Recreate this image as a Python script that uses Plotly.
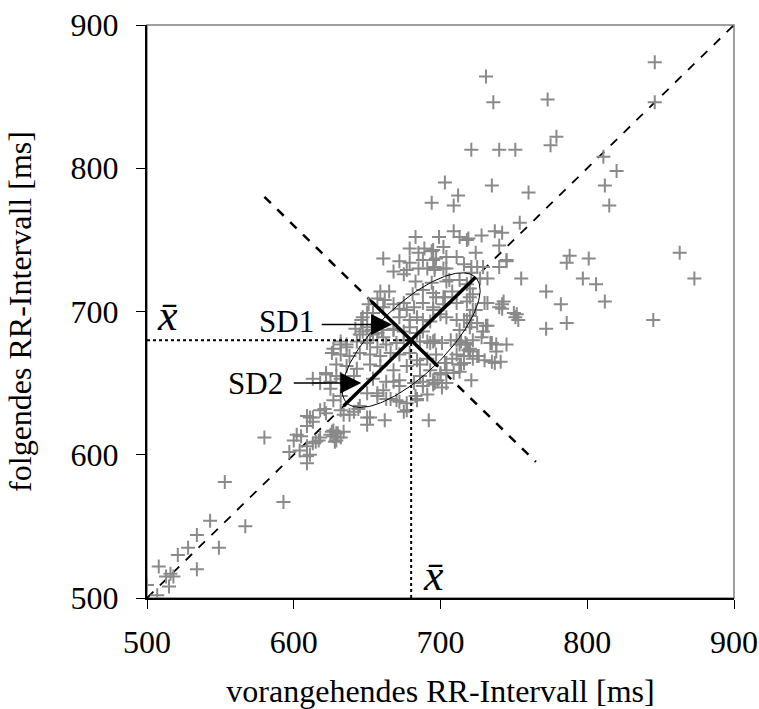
import numpy as np
import plotly.graph_objects as go

# RR(n) vs RR(n+1) in ms
rr_prev = [
    846, 731, 736, 773, 846, 779, 775, 721, 740, 751, 811, 820, 812, 815, 703, 735, 760, 712, 709, 694,
    754, 863, 873, 788, 786, 801, 797, 806, 772, 812, 782, 755, 845, 772, 786,
    699, 709, 719, 728, 737, 742, 740, 724, 711, 702, 695, 695, 721, 721, 704, 696, 740, 745, 732, 727,
    706, 722, 743, 740, 732, 752, 750, 722, 697, 703, 695, 700, 718, 745, 729, 720, 720, 730, 742, 724,
    751, 753, 716, 721,
    683, 713, 679, 689, 694, 685, 672, 679, 688, 697, 704, 661, 668, 675, 677, 685, 691, 696, 702, 716,
    725, 683, 694, 704, 713, 718, 659, 665, 657, 662, 681, 688, 695, 702, 708, 651, 650, 646, 650, 653,
    661, 668, 672, 677, 672, 679, 684, 688, 693, 695, 702, 711, 718, 704, 711, 718, 720, 725, 713, 668,
    675, 679, 684, 688, 657, 661, 652, 645, 691, 696, 701, 707, 713, 722, 632, 636, 627,
    731, 729, 728, 735, 738, 745, 738, 741, 735, 730, 726, 720, 714, 711, 717, 708, 713, 716, 703, 704,
    721, 695, 692, 700, 698, 696, 701, 720, 742, 732, 734, 720, 725, 714, 737, 718,
    647, 654, 675, 682, 688, 642, 647, 654, 660, 668,
    632, 636, 643, 650, 657, 663, 670, 675, 686, 693,
    626, 632, 638, 645, 652, 659, 666, 672, 679, 684, 691, 697,
    629, 636, 643, 652, 659, 668, 677, 686, 693,
    622, 632, 641, 654, 663, 672, 682, 688, 695,
    625, 632, 627, 650, 657, 663, 670, 677, 684, 691,
    609, 613, 618, 622, 632, 641, 645, 650, 662, 675, 683,
    626, 629, 632, 627, 602, 600, 609, 604, 609, 609, 613, 618,
    580, 553, 593, 543, 534, 567, 528, 549, 521, 508, 516, 518, 513, 534, 500, 515, 507,
    605, 611, 617, 597, 634, 628,
    684, 677, 672, 652, 650, 644, 638, 634, 627, 630, 625, 629, 611, 609, 613, 621, 615, 711, 719, 722,
    713, 704, 700, 695, 688, 686, 704, 709, 716, 668, 672, 661, 657, 666, 622, 625, 629, 618, 613,
]
rr_next = [
    874, 864, 846, 848, 846, 822, 816, 813, 813, 813, 808, 798, 788, 774, 790, 788, 783, 781, 774, 776,
    762, 741, 723, 739, 734, 737, 723, 719, 714, 707, 705, 723, 694, 688, 692,
    752, 756, 751, 753, 756, 755, 746, 741, 738, 745, 743, 736, 731, 727, 730, 731, 731, 736, 723, 723,
    722, 712, 707, 703, 706, 698, 699, 701, 710, 710, 703, 698, 750, 735, 731, 716, 710, 706, 702, 701,
    696, 694, 694, 692,
    752, 752, 744, 744, 742, 741, 735, 734, 736, 737, 738, 737, 728, 726, 729, 730, 730, 729, 730, 733,
    731, 721, 720, 721, 722, 719, 714, 714, 709, 708, 712, 715, 713, 710, 714, 705, 699, 694, 689, 687,
    703, 705, 702, 701, 696, 694, 696, 694, 693, 701, 705, 706, 707, 696, 694, 694, 689, 692, 687, 687,
    686, 689, 685, 686, 685, 682, 680, 684, 679, 680, 678, 680, 677, 680, 677, 675, 674,
    690, 686, 682, 678, 677, 677, 672, 665, 665, 666, 669, 672, 679, 680, 678, 667, 663, 669, 664, 659,
    652, 679, 624, 656, 652, 650, 647, 697, 705, 690, 678, 674, 669, 663, 664, 677,
    696, 699, 706, 703, 706, 688, 686, 684, 687, 688,
    679, 677, 679, 678, 675, 677, 678, 680, 679, 678,
    671, 670, 669, 671, 670, 669, 671, 670, 671, 666, 667, 670,
    663, 662, 660, 663, 662, 659, 662, 663, 659,
    656, 653, 655, 653, 651, 652, 650, 651, 649,
    646, 641, 638, 643, 641, 639, 638, 636, 638, 642,
    627, 626, 631, 629, 631, 630, 634, 626, 624, 630, 641,
    616, 615, 612, 613, 614, 610, 606, 603, 599, 594, 608, 612,
    612, 581, 567, 554, 544, 550, 535, 535, 530, 522, 517, 515, 515, 520, 509, 508, 502,
    613, 600, 610, 602, 616, 609,
    639, 631, 637, 626, 621, 632, 628, 628, 617, 615, 614, 610, 626, 620, 623, 632, 609, 670, 673, 667,
    658, 664, 657, 652, 648, 655, 650, 657, 664, 651, 648, 645, 643, 639, 657, 651, 655, 650, 653,
]

MEAN_RR = 680
SD1_HALF = 24    # semi-minor of the fitted ellipse
SD2_HALF = 62    # semi-major of the fitted ellipse

axis_ticks = [500, 600, 700, 800, 900]

FONT = "Liberation Serif, Times New Roman, serif"

fig = go.Figure()

# line of identity
fig.add_trace(go.Scatter(x=[500, 900], y=[500, 900], mode="lines",
                         line=dict(color="black", width=1.8, dash="dash"), hoverinfo="skip"))
# perpendicular through the mean
fig.add_trace(go.Scatter(x=[580, 765], y=[780, 595], mode="lines",
                         line=dict(color="black", width=2.5, dash="dash"), hoverinfo="skip"))

# scatter
fig.add_trace(go.Scatter(
    x=rr_prev, y=rr_next, mode="markers",
    marker=dict(symbol="cross-thin", size=10, line=dict(width=2, color="#8a8a8a")),
))

# mean lines
fig.add_trace(go.Scatter(x=[500, MEAN_RR], y=[MEAN_RR, MEAN_RR], mode="lines",
                         line=dict(color="black", width=2, dash="dot"), hoverinfo="skip"))
fig.add_trace(go.Scatter(x=[MEAN_RR, MEAN_RR], y=[500, MEAN_RR], mode="lines",
                         line=dict(color="black", width=2, dash="dot"), hoverinfo="skip"))

# ellipse
t = np.linspace(0, 2 * np.pi, 200)
u = SD2_HALF * np.cos(t)
v = SD1_HALF * np.sin(t)
fig.add_trace(go.Scatter(x=MEAN_RR + (u - v) / np.sqrt(2), y=MEAN_RR + (u + v) / np.sqrt(2),
                         mode="lines", line=dict(color="black", width=1), hoverinfo="skip"))

# SD2 and SD1 axes
fig.add_trace(go.Scatter(x=[634, 724], y=[634, 724], mode="lines",
                         line=dict(color="black", width=3.5), hoverinfo="skip"))
fig.add_trace(go.Scatter(x=[653, 698], y=[707, 662], mode="lines",
                         line=dict(color="black", width=3.5), hoverinfo="skip"))

# labels and arrows
fig.add_annotation(x=595, y=693, text="SD1", showarrow=False,
                   font=dict(family=FONT, size=31, color="black"))
fig.add_annotation(x=574, y=650, text="SD2", showarrow=False,
                   font=dict(family=FONT, size=31, color="black"))
fig.add_annotation(x=667, y=691, ax=618, ay=691, axref="x", ayref="y", text="",
                   showarrow=True, arrowhead=2, arrowsize=2.8, arrowwidth=1.5, arrowcolor="black")
fig.add_annotation(x=646, y=650, ax=599, ay=650, axref="x", ayref="y", text="",
                   showarrow=True, arrowhead=2, arrowsize=2.8, arrowwidth=1.5, arrowcolor="black")
fig.add_annotation(x=514, y=697, text="<i>x\u0304</i>", showarrow=False,
                   font=dict(family=FONT, size=44, color="black"))
fig.add_annotation(x=695, y=516, text="<i>x\u0304</i>", showarrow=False,
                   font=dict(family=FONT, size=44, color="black"))

# grey frame on top/right
fig.add_shape(type="rect", xref="paper", yref="paper", x0=0, y0=0, x1=1, y1=1,
              line=dict(color="#808080", width=1.5), layer="below")

axis_common = dict(
    range=[500, 900], tickvals=axis_ticks, showgrid=False, zeroline=False,
    showline=True, linecolor="black", linewidth=2,
    ticks="outside", ticklen=9, tickwidth=1.2, tickcolor="black",
    tickfont=dict(family=FONT, size=32, color="black"),
    automargin=False, ticklabeloverflow="allow",
)
fig.update_xaxes(**axis_common, ticklabelstandoff=6,
                 title=dict(text="vorangehendes RR-Intervall [ms]", standoff=42,
                            font=dict(family=FONT, size=32, color="black")))
fig.update_yaxes(**axis_common, ticklabelstandoff=11,
                 title=dict(text="folgendes RR-Intervall [ms]", standoff=29,
                            font=dict(family=FONT, size=32, color="black")))

fig.update_layout(
    width=759, height=709,
    margin=dict(l=147, r=25, t=25, b=111),
    plot_bgcolor="white", paper_bgcolor="white",
    showlegend=False,
)

# drop the page's default body margin so the figure fills the window exactly
fig.write_html("out.html", config={"displayModeBar": False},
               post_script="document.body.style.margin = '0'; document.body.style.overflow = 'hidden';")
